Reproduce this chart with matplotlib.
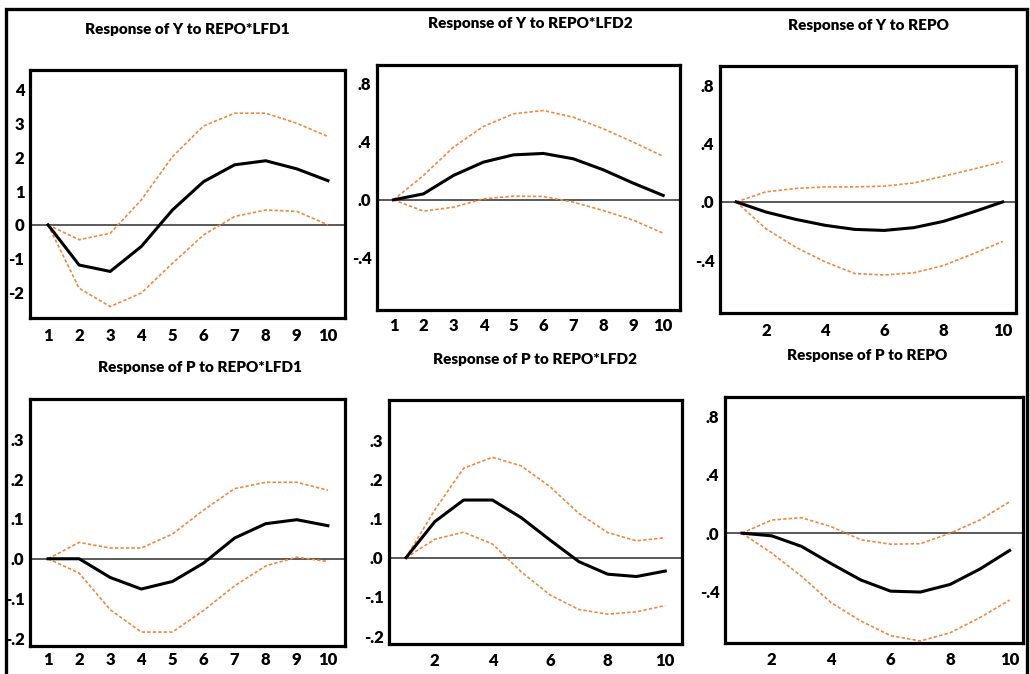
import matplotlib
matplotlib.use("Agg")
import matplotlib.pyplot as plt
from matplotlib.patches import Rectangle

plt.rcParams['font.family'] = ['Lato', 'DejaVu Sans']

periods = list(range(1, 11))

titles = ["Response of Y to REPO*LFD1", "Response of Y to REPO*LFD2", "Response of Y to REPO",
          "Response of P to REPO*LFD1", "Response of P to REPO*LFD2", "Response of P to REPO"]

# Y to REPO*LFD1
y_lfd1_resp = [0.0, -1.19, -1.38, -0.64, 0.44, 1.28, 1.78, 1.90, 1.66, 1.31]
y_lfd1_up   = [0.0, -0.44, -0.25, 0.74, 2.02, 2.93, 3.31, 3.31, 3.01, 2.62]
y_lfd1_lo   = [0.0, -1.88, -2.42, -2.02, -1.14, -0.30, 0.25, 0.44, 0.40, 0.0]
# Y to REPO*LFD2
y_lfd2_resp = [0.0, 0.041, 0.168, 0.26, 0.31, 0.32, 0.283, 0.207, 0.115, 0.03]
y_lfd2_up   = [0.0, 0.168, 0.363, 0.506, 0.593, 0.616, 0.57, 0.49, 0.398, 0.30]
y_lfd2_lo   = [0.0, -0.078, -0.051, 0.007, 0.025, 0.023, -0.016, -0.074, -0.14, -0.23]
# Y to REPO
y_repo_resp = [0.0, -0.069, -0.119, -0.16, -0.188, -0.195, -0.176, -0.133, -0.069, 0.0]
y_repo_up   = [0.0, 0.069, 0.092, 0.103, 0.103, 0.108, 0.13, 0.176, 0.224, 0.275]
y_repo_lo   = [0.0, -0.183, -0.309, -0.41, -0.49, -0.50, -0.485, -0.435, -0.355, -0.27]
# P to REPO*LFD1
p_lfd1_resp = [0.0, 0.0, -0.047, -0.076, -0.057, -0.011, 0.052, 0.088, 0.098, 0.083]
p_lfd1_up   = [0.0, 0.041, 0.027, 0.027, 0.062, 0.122, 0.176, 0.192, 0.192, 0.172]
p_lfd1_lo   = [0.0, -0.036, -0.128, -0.184, -0.184, -0.13, -0.068, -0.018, 0.004, -0.007]
# P to REPO*LFD2
p_lfd2_resp = [0.0, 0.092, 0.147, 0.147, 0.102, 0.045, -0.010, -0.042, -0.048, -0.034]
p_lfd2_up   = [0.0, 0.122, 0.228, 0.256, 0.234, 0.181, 0.113, 0.064, 0.043, 0.051]
p_lfd2_lo   = [0.0, 0.047, 0.065, 0.035, -0.036, -0.095, -0.132, -0.144, -0.138, -0.122]
# P to REPO
p_repo_resp = [0.0, -0.018, -0.09, -0.208, -0.32, -0.396, -0.402, -0.35, -0.245, -0.118]
p_repo_up   = [0.0, 0.09, 0.106, 0.045, -0.045, -0.075, -0.072, 0.0, 0.09, 0.215]
p_repo_lo   = [0.0, -0.136, -0.294, -0.475, -0.60, -0.70, -0.736, -0.68, -0.577, -0.457]

series = [
    (y_lfd1_resp, y_lfd1_up, y_lfd1_lo),
    (y_lfd2_resp, y_lfd2_up, y_lfd2_lo),
    (y_repo_resp, y_repo_up, y_repo_lo),
    (p_lfd1_resp, p_lfd1_up, p_lfd1_lo),
    (p_lfd2_resp, p_lfd2_up, p_lfd2_lo),
    (p_repo_resp, p_repo_up, p_repo_lo),
]

yticks = [[-2, -1, 0, 1, 2, 3, 4], [-0.4, 0.0, 0.4, 0.8], [-0.4, 0.0, 0.4, 0.8],
          [-0.2, -0.1, 0.0, 0.1, 0.2, 0.3], [-0.2, -0.1, 0.0, 0.1, 0.2, 0.3], [-0.4, 0.0, 0.4, 0.8]]
xticks = [list(range(1, 11)), list(range(1, 11)), [2, 4, 6, 8, 10],
          list(range(1, 11)), [2, 4, 6, 8, 10], [2, 4, 6, 8, 10]]

ylims = [(-2.76, 4.59), (-0.76, 0.93), (-0.76, 0.93), (-0.219, 0.401), (-0.22, 0.402), (-0.75, 0.93)]
xlims = [(0.42, 10.55), (0.45, 10.56), (0.45, 10.45), (0.42, 10.55), (0.41, 10.58), (0.43, 10.45)]

# axes boxes in pixels: left, right, top, bottom
W, H = 1030, 674
boxes = [(30, 345, 70, 318), (377, 680, 65, 310), (720, 1016, 66, 313),
         (30, 345, 399, 646), (389, 682, 400, 644), (725, 1023, 397, 643)]
title_pos = [(187, 30), (530, 24), (868, 25), (200, 368), (535, 360), (867, 355)]
xpads = [7.0, 6.0, 7.0, 4.5, 6.5, 6.5]

fig = plt.figure(figsize=(W / 100, H / 100), dpi=100)
fig.patch.set_facecolor('white')

for i, (resp, up, lo) in enumerate(series):
    l, r, t, b = boxes[i]
    ax = fig.add_axes([l / W, 1 - b / H, (r - l) / W, (b - t) / H])
    ax.axhline(0, color='#4d4d4d', lw=1.3, zorder=1)
    ax.plot(periods, up, color='#EE8A3C', lw=1.2, ls=(0, (2.0, 1.3)), zorder=2)
    ax.plot(periods, lo, color='#EE8A3C', lw=1.2, ls=(0, (2.0, 1.3)), zorder=2)
    ax.plot(periods, resp, color='black', lw=2.2, zorder=3)
    ax.set_xlim(*xlims[i])
    ax.set_ylim(*ylims[i])
    ax.set_xticks(xticks[i])
    ax.set_yticks(yticks[i])
    if i != 0:
        labs = []
        for v in yticks[i]:
            s = f"{v:.1f}".replace("0.", ".")
            if s == "-.0":
                s = ".0"
            labs.append(s)
    else:
        labs = [str(v) for v in yticks[i]]
    ax.set_yticklabels(labs)
    ax.tick_params(length=0, labelsize=12)
    ax.tick_params(axis='x', pad=xpads[i])
    ax.tick_params(axis='y', pad=4.0)
    for lab in ax.get_xticklabels() + ax.get_yticklabels():
        lab.set_fontweight('heavy')
    for sp in ax.spines.values():
        sp.set_linewidth(2.3)
        sp.set_color('black')
    tx, ty = title_pos[i]
    fig.text(tx / W, 1 - ty / H, titles[i], ha='center', va='center',
             fontsize=11, fontweight='heavy')

fig.add_artist(Rectangle((5.5 / W, -0.05), 1021.5 / W, (1 - 8.5 / H) + 0.05,
                         transform=fig.transFigure, fill=False, lw=2.4,
                         edgecolor='black'))

fig.savefig('out.png', dpi=100)
